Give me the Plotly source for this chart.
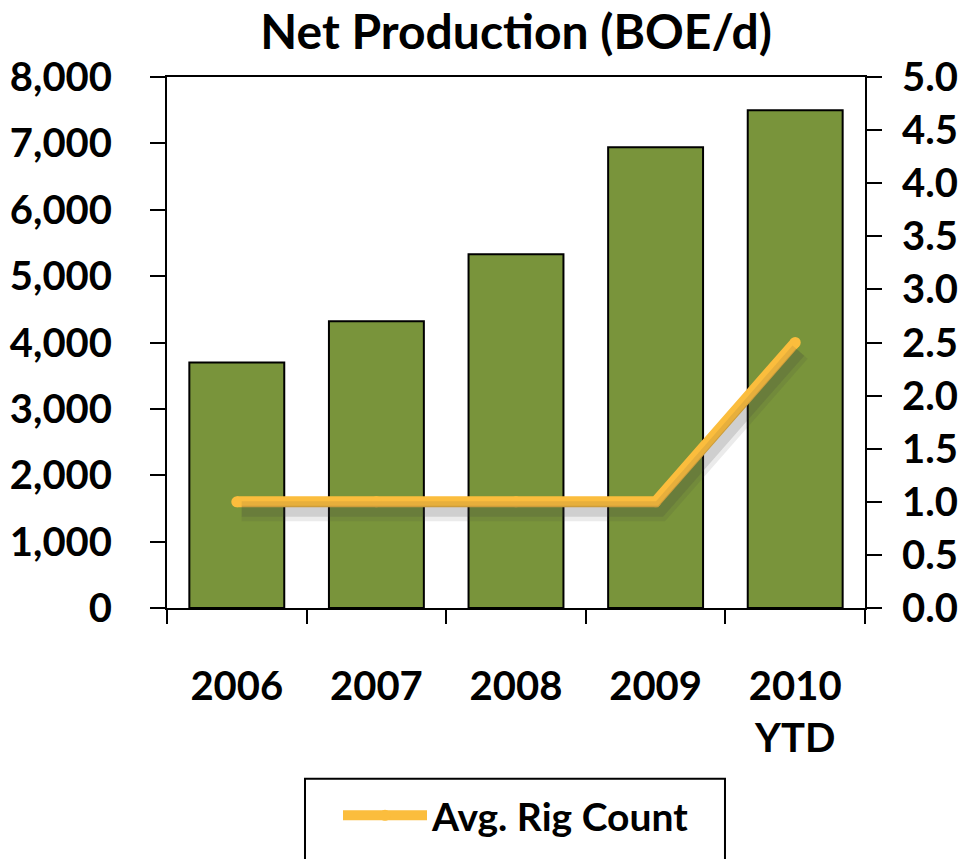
import plotly.graph_objects as go

categories = ["2006", "2007", "2008", "2009", "2010<br>YTD"]
production = [3700, 4320, 5330, 6940, 7500]
rig_count = [1.0, 1.0, 1.0, 1.0, 2.5]
left_ticks = [0, 1000, 2000, 3000, 4000, 5000, 6000, 7000, 8000]
right_ticks = [0.0, 0.5, 1.0, 1.5, 2.0, 2.5, 3.0, 3.5, 4.0, 4.5, 5.0]

FONT = "Lato"
GREEN = "#79943B"
GOLD = "#FBBD3D"
TICKFONT = dict(size=40, family=FONT, color="black", weight="bold")

fig = go.Figure()
fig.add_trace(go.Bar(
    x=categories, y=production, name="Net Production",
    marker=dict(color=GREEN, line=dict(color="black", width=2)),
    showlegend=False, xaxis="x", yaxis="y",
))
# soft shadow of the line (same data, drawn on offset overlay axes)
fig.add_trace(go.Scatter(
    x=categories, y=rig_count, mode="lines", showlegend=False,
    line=dict(color="rgba(60,60,60,0.10)", width=20),
    xaxis="x2", yaxis="y2", hoverinfo="skip",
))
fig.add_trace(go.Scatter(
    x=categories, y=rig_count, mode="lines", showlegend=False,
    line=dict(color="rgba(60,60,60,0.16)", width=11),
    xaxis="x2", yaxis="y2", hoverinfo="skip",
))
fig.add_trace(go.Scatter(
    x=categories, y=rig_count, mode="lines+markers", name="Avg. Rig Count",
    line=dict(color=GOLD, width=11),
    marker=dict(color=GOLD, size=11),
    xaxis="x", yaxis="y3",
))

# legend frame (runs off the bottom edge as in the reference)
fig.add_shape(type="rect", xref="paper", yref="paper",
              x0=0.1977, x1=0.7994, y0=-0.3215, y1=-0.52,
              line=dict(color="black", width=2), fillcolor="rgba(0,0,0,0)")

fig.update_layout(
    width=972, height=859,
    margin=dict(l=167, r=107, t=77, b=247),
    paper_bgcolor="white", plot_bgcolor="white",
    font=dict(family=FONT, color="black", size=36),
    title=dict(text="Net Production (BOE/d)", x=0.531, xanchor="center",
               y=0.962, yanchor="middle",
               font=dict(size=48, family=FONT, color="black", weight="bold")),
    bargap=0.32,
    showlegend=True,
    legend=dict(x=(338 - 167) / 698, y=(612 - 821) / 535, xanchor="left", yanchor="middle",
                bgcolor="rgba(0,0,0,0)", borderwidth=0,
                font=dict(size=39, family=FONT, color="black", weight="bold"),
                itemwidth=84),
    xaxis=dict(type="category", range=[-0.5, 4.5], tickson="boundaries",
               ticks="outside", ticklen=14, tickwidth=2, tickcolor="black",
               showline=True, linecolor="black", linewidth=2, mirror=True,
               tickfont=TICKFONT, ticklabelstandoff=42, showgrid=False,
               automargin=False),
    xaxis2=dict(type="category", range=[-0.5 - 0.035, 4.5 - 0.035], overlaying="x",
                visible=False),
    yaxis=dict(range=[0, 8000], tickvals=left_ticks, tickformat=",",
               ticks="outside", ticklen=15, tickwidth=2, tickcolor="black",
               showline=True, linecolor="black", linewidth=2,
               tickfont=TICKFONT, ticklabelstandoff=30,
               showgrid=False, zeroline=False, automargin=False),
    yaxis2=dict(range=[0.09, 5.09], overlaying="y", visible=False),
    yaxis3=dict(range=[0, 5], tickvals=right_ticks, tickformat=".1f", overlaying="y",
                side="right", ticks="outside", ticklen=15, tickwidth=2, tickcolor="black",
                showline=True, linecolor="black", linewidth=2,
                tickfont=TICKFONT, ticklabelstandoff=12,
                showgrid=False, zeroline=False, automargin=False),
)

fig.write_html("out.html")
